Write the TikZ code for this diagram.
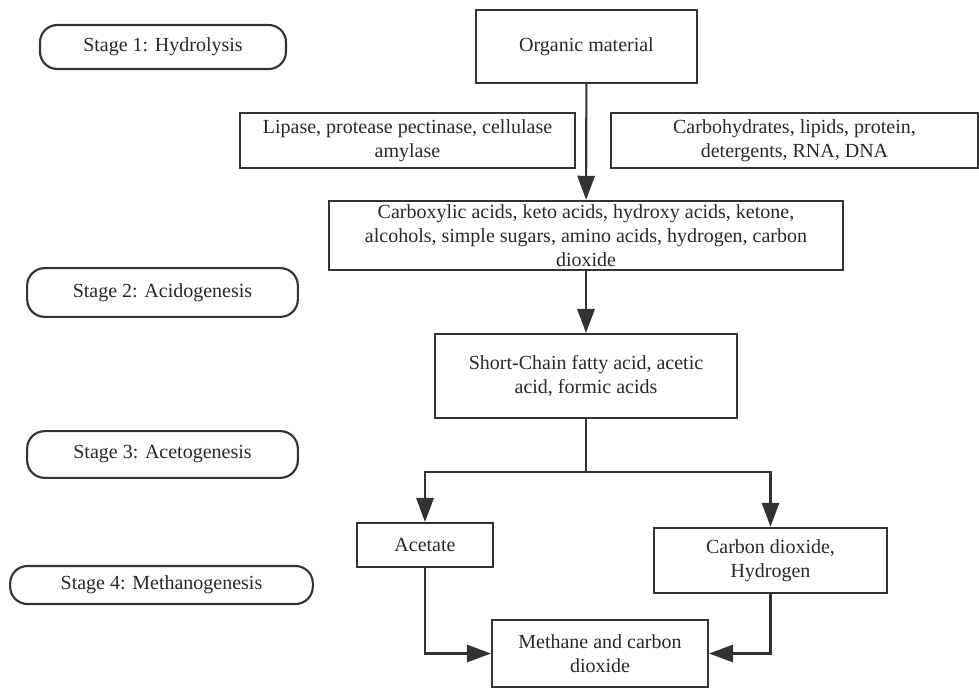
\documentclass[tikz,border=0pt]{standalone}
\usepackage{fontspec}
\setmainfont{Liberation Serif}
\usepackage{tikz}
\usetikzlibrary{arrows.meta, positioning, calc}
\definecolor{adline}{RGB}{51,51,51}
\definecolor{adtext}{RGB}{40,40,40}

\begin{document}
\begin{tikzpicture}[x=0.75pt, y=-0.75pt,
  stagebox/.style={rectangle, rounded corners=13pt, draw=adline, line width=1.6pt, align=center, inner sep=0pt, font=\fontsize{15}{18}\selectfont, text=adtext},
  procbox/.style={rectangle, draw=adline, line width=1.6pt, align=center, inner sep=0pt, font=\fontsize{15}{18}\selectfont, text=adtext},
  arr/.style={-{Triangle[length=18pt, width=13pt]}, line width=1.6pt, draw=adline}
]
\useasboundingbox (0,0) rectangle (979,688);
% stages
\node[stagebox, minimum width=184.5pt, minimum height=33pt] (st1) at (163,47) {Stage 1: Hydrolysis};
\node[stagebox, minimum width=203pt, minimum height=36.5pt] (st2) at (162.5,292.5) {Stage 2: Acidogenesis};
\node[stagebox, minimum width=203pt, minimum height=35pt] (st3) at (162.5,454.5) {Stage 3: Acetogenesis};
\node[stagebox, minimum width=227pt, minimum height=28.5pt] (st4) at (161.5,585) {Stage 4: Methanogenesis};
% process chain
\node[procbox, minimum width=166pt, minimum height=55pt] (organic) at (586.5,46.5) {Organic material};
\node[procbox, minimum width=251pt, minimum height=41pt] (enzymes) at (407.5,140.5) {Lipase, protease pectinase, cellulase\\amylase};
\node[procbox, minimum width=275pt, minimum height=41pt] (polymers) at (794.5,140.5) {Carbohydrates, lipids, protein,\\detergents, RNA, DNA};
\node[procbox, minimum width=385pt, minimum height=52pt] (monomers) at (586,235.5) {Carboxylic acids, keto acids, hydroxy acids, ketone,\\alcohols, simple sugars, amino acids, hydrogen, carbon\\dioxide};
\node[procbox, minimum width=226pt, minimum height=63pt] (vfa) at (586,376) {Short-Chain fatty acid, acetic\\acid, formic acids};
\node[procbox, minimum width=102pt, minimum height=33pt] (acetate) at (425,545) {Acetate};
\node[procbox, minimum width=175pt, minimum height=49pt] (cohyd) at (770.5,560.5) {Carbon dioxide,\\Hydrogen};
\node[procbox, minimum width=162pt, minimum height=50pt] (methane) at (600,653.5) {Methane and carbon\\dioxide};
\coordinate (split) at (586,472);
% connectors
\draw[arr] (organic) -- (monomers);
\draw[arr] (monomers) -- (vfa);
\draw[line width=1.6pt, draw=adline] (vfa.south) -- (split);
\draw[arr] (split) -| (acetate.north);
\draw[arr] (split) -| (cohyd.north);
\draw[arr] (acetate.south) |- (methane.west);
\draw[arr] (cohyd.south) |- (methane.east);
\end{tikzpicture}
\end{document}
